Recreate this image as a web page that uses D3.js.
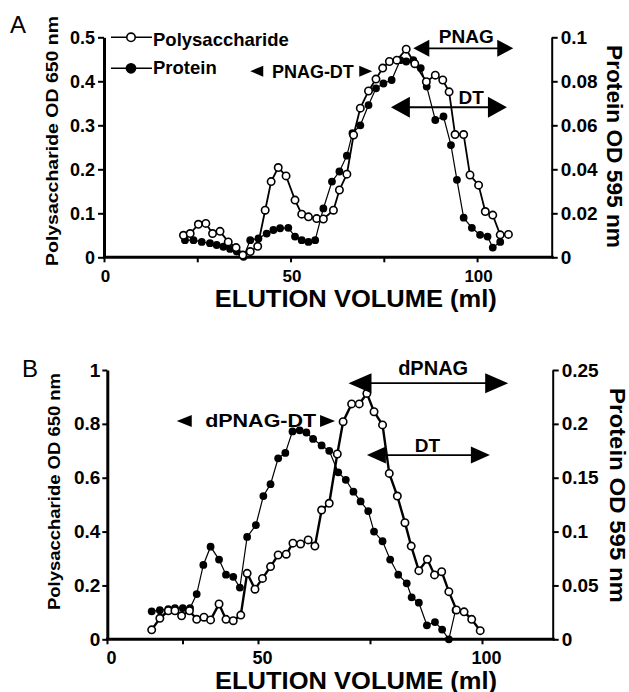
<!DOCTYPE html>
<html><head><meta charset="utf-8">
<script src="https://cdn.jsdelivr.net/npm/d3@7"></script>
<style>
body{margin:0;background:#fff}
svg{display:block}
text{font-family:"Liberation Sans",Arial,Helvetica,sans-serif;font-weight:bold;fill:#000}
</style>
</head><body>
<svg id="chart" width="629" height="692"></svg>
<script>
// ---------- Panel A data ----------
const volA_poly = [21.3,23.1,25.3,27.3,29.1,31.1,33.3,35.4,37.2,39.2,41.2,43.2,44.8,46.7,48.8,51.2,53.0,54.8,57.0,58.8,61.5,63.1,65.1,66.9,68.7,70.9,72.9,74.7,76.5,78.5,81.0,83.3,86.4,88.8,90.8,92.5,94.1,96.4,98.1,100.4,102.2,104.2,106.2,108.4];
const polyA = [0.050,0.054,0.075,0.077,0.054,0.059,0.035,0.022,0.005,0.013,0.025,0.107,0.172,0.204,0.185,0.130,0.098,0.092,0.088,0.087,0.107,0.153,0.189,0.278,0.339,0.378,0.405,0.430,0.445,0.448,0.473,0.440,0.399,0.414,0.403,0.376,0.279,0.279,0.187,0.164,0.104,0.096,0.051,0.052];
const volA_prot = [21.7,24.0,26.2,28.4,30.2,32.0,33.8,35.6,37.4,39.2,41.4,43.6,45.4,47.2,49.4,51.2,53.0,54.8,56.6,58.8,61.1,63.1,65.1,66.6,68.7,70.9,72.9,74.9,77.1,79.4,81.0,82.9,84.9,86.5,88.8,91.0,93.0,94.6,96.4,98.6,100.8,102.8,104.2,106.2];
const protA = [0.0078,0.0078,0.0070,0.0064,0.0056,0.0048,0.0038,0.0026,0.0002,0.0078,0.0086,0.0108,0.0124,0.0132,0.0134,0.0094,0.0078,0.0070,0.0078,0.0222,0.0344,0.0390,0.0462,0.0564,0.0600,0.0692,0.0768,0.0790,0.0806,0.0896,0.0890,0.0896,0.0860,0.0776,0.0624,0.0640,0.0510,0.0352,0.0180,0.0134,0.0102,0.0094,0.0044,0.0070];

// ---------- Panel B data ----------
const volB_poly = [14.8,17.5,20.3,22.5,24.7,27.3,29.7,32.1,34.3,37.1,39.4,41.8,44.3,46.4,49.0,51.0,52.8,54.5,56.3,57.8,59.5,61.2,62.7,64.2,65.9,67.7,69.0,70.9,72.6,74.3,75.9,77.8,79.3,81.1,82.8,84.2,85.9,87.8,89.4,91.0,92.6,94.3,96.0,97.7,99.6];
const polyB = [0.035,0.078,0.106,0.106,0.087,0.106,0.074,0.082,0.072,0.131,0.074,0.069,0.090,0.245,0.186,0.226,0.270,0.313,0.316,0.357,0.354,0.369,0.346,0.480,0.505,0.688,0.808,0.874,0.874,0.913,0.845,0.796,0.616,0.532,0.433,0.346,0.255,0.297,0.239,0.251,0.177,0.109,0.102,0.074,0.032];
const volB_prot = [14.8,17.5,20.3,22.5,25.1,27.5,29.7,31.9,34.3,37.1,39.4,41.8,44.0,46.4,49.3,51.2,52.8,54.5,56.1,57.7,59.3,60.8,62.3,64.2,65.9,67.9,69.6,71.3,72.9,74.6,75.9,77.8,79.5,81.3,83.2,84.3,85.9,87.7,89.5,91.1,92.6,94.1];
const protB = [0.026,0.027,0.028,0.029,0.029,0.029,0.042,0.069,0.086,0.074,0.060,0.058,0.048,0.095,0.106,0.133,0.144,0.168,0.173,0.193,0.194,0.192,0.186,0.180,0.175,0.155,0.148,0.137,0.128,0.119,0.100,0.091,0.074,0.060,0.052,0.039,0.034,0.013,0.016,0.009,0.000,0.027];

// ---------- tick labels ----------
const xTickVals = [0,25,50,75,100];
const xTickLabels = ["0","","50","","100"];
const yLeftTicksA = [0,0.1,0.2,0.3,0.4,0.5];
const yLeftLabelsA = ["0","0.1","0.2","0.3","0.4","0.5"];
const yRightTicksA = [0,0.02,0.04,0.06,0.08,0.1];
const yRightLabelsA = ["0","0.02","0.04","0.06","0.08","0.1"];
const yLeftTicksB = [0,0.2,0.4,0.6,0.8,1];
const yLeftLabelsB = ["0","0.2","0.4","0.6","0.8","1"];
const yRightTicksB = [0,0.05,0.1,0.15,0.2,0.25];
const yRightLabelsB = ["0","0.05","0.1","0.15","0.2","0.25"];

const legendNames = ["Polysaccharide","Protein"];
const xTitle = "ELUTION VOLUME (ml)";
const leftTitle = "Polysaccharide OD 650 nm";
const rightTitle = "Protein OD 595 nm";

const svg = d3.select("#chart");

function labeller(vals, labels){ return d => labels[vals.indexOf(d)]; }

function drawPanel(c){
  const g = svg.append("g");
  // axes
  const xAx = g.append("g").attr("transform",`translate(0,${c.y0})`)
    .call(d3.axisBottom(c.x).tickValues(xTickVals).tickFormat(labeller(xTickVals,xTickLabels))
      .tickSize(5).tickSizeOuter(0).tickPadding(c.xPad));
  xAx.select(".domain").attr("stroke-width",3).attr("d",`M${c.x.range()[0]-1},0H${c.x.range()[c.x.range().length-1]+2}`);
  xAx.selectAll(".tick line").attr("stroke-width",2);
  xAx.selectAll(".tick text").style("font-size",c.xFont+"px").attr("dx",c.xLabDx);

  const yl = g.append("g").attr("transform",`translate(${c.x0},0)`)
    .call(d3.axisLeft(c.yL).tickValues(c.ylT).tickFormat(labeller(c.ylT,c.ylL))
      .tickSize(c.ylSize).tickSizeOuter(0).tickPadding(c.ylPad));
  yl.select(".domain").attr("stroke-width",3);
  yl.selectAll(".tick line").attr("stroke-width",2);
  yl.selectAll(".tick text").style("font-size",c.yFont+"px");

  const yr = g.append("g").attr("transform",`translate(${c.x1},0)`)
    .call(d3.axisRight(c.yR).tickValues(c.yrT).tickFormat(labeller(c.yrT,c.yrL))
      .tickSize(6).tickSizeOuter(0).tickPadding(3));
  yr.select(".domain").attr("stroke-width",2);
  yr.selectAll(".tick line").attr("stroke-width",2);
  yr.selectAll(".tick text").style("font-size",c.yrFont+"px");

  // titles
  g.append("text").attr("x",(c.x0+c.x1)/2+c.xTitleDx).attr("y",c.xTitleY)
    .attr("text-anchor","middle").style("font-size","24px")
    .attr("textLength",282).attr("lengthAdjust","spacingAndGlyphs").text(xTitle);
  g.append("text").attr("transform",`translate(${c.ltX},${c.ltY}) rotate(-90)`)
    .attr("text-anchor","middle").style("font-size","16px")
    .attr("textLength",c.ltLen).attr("lengthAdjust","spacingAndGlyphs").text(leftTitle);
  g.append("text").attr("transform",`translate(${c.rtX},${c.rtY}) rotate(90)`)
    .attr("text-anchor","middle").style("font-size","22px")
    .attr("textLength",c.rtLen).attr("lengthAdjust","spacingAndGlyphs").text(rightTitle);
  g.append("text").attr("x",c.letterX).attr("y",c.letterY).style("font-size","24px")
    .style("font-weight","normal").text(c.letter);

  // series
  const lineP = d3.line().x(d=>c.x(d[0])).y(d=>c.yR(d[1]));
  const lineS = d3.line().x(d=>c.x(d[0])).y(d=>c.yL(d[1]));
  const protPts = c.volProt.map((v,i)=>[v,c.prot[i]]);
  const polyPts = c.volPoly.map((v,i)=>[v,c.poly[i]]);
  g.append("path").attr("d",lineP(protPts)).attr("fill","none").attr("stroke","#000").attr("stroke-width",1.2);
  g.selectAll(null).data(protPts).join("circle")
    .attr("cx",d=>c.x(d[0])).attr("cy",d=>c.yR(d[1])).attr("r",3.9).attr("fill","#000");
  g.append("path").attr("d",lineS(polyPts)).attr("fill","none").attr("stroke","#000").attr("stroke-width",c.polyW);
  g.selectAll(null).data(polyPts).join("circle")
    .attr("cx",d=>c.x(d[0])).attr("cy",d=>c.yL(d[1])).attr("r",3.7)
    .attr("fill","#fff").attr("stroke","#000").attr("stroke-width",1.6);

  // annotations
  c.arrows.forEach(a=>{
    const xa=c.x(a.from), xb=c.x(a.to), y=c.yL(a.y);
    g.append("line").attr("x1",xa+4).attr("x2",xb-4).attr("y1",y).attr("y2",y).attr("stroke","#000").attr("stroke-width",1.8);
    g.append("path").attr("d",`M${xa},${y}L${xa+a.len},${y-a.h/2}L${xa+a.len},${y+a.h/2}Z`).attr("fill","#000");
    g.append("path").attr("d",`M${xb},${y}L${xb-a.len},${y-a.h/2}L${xb-a.len},${y+a.h/2}Z`).attr("fill","#000");
    g.append("text").attr("x",c.x(a.tx)).attr("y",c.yL(a.ty)).attr("text-anchor","middle")
      .style("font-size",a.font+"px").text(a.label);
  });
  const r = c.range;
  const yr0 = c.yL(r.y);
  let xl = c.x(r.left);
  g.append("path").attr("d",`M${xl},${yr0}L${xl+r.len},${yr0-r.h/2}L${xl+r.len},${yr0+r.h/2}Z`).attr("fill","#000");
  g.append("text").attr("x",c.x(r.tx)).attr("y",c.yL(r.ty)).style("font-size",r.font+"px")
    .attr("textLength",r.tlen).attr("lengthAdjust","spacingAndGlyphs").text(r.label);
  let xr = c.x(r.right);
  g.append("path").attr("d",`M${xr},${yr0}L${xr-r.len},${yr0-r.h/2}L${xr-r.len},${yr0+r.h/2}Z`).attr("fill","#000");
  return g;
}

// Panel A
const xA = d3.scaleLinear().domain([0,120]).range([104,551.7]);
const yLA = d3.scaleLinear().domain([0,0.5]).range([257.3,37.3]);
const yRA = d3.scaleLinear().domain([0,0.1]).range([257.3,37.3]);
const gA = drawPanel({
  x:xA,yL:yLA,yR:yRA,y0:257.3,x0:104,x1:551.7,xPad:8,xFont:17,xLabDx:1,
  ylT:yLeftTicksA,ylL:yLeftLabelsA,ylSize:6,ylPad:3,yFont:18,
  yrT:yRightTicksA,yrL:yRightLabelsA,yrFont:19,
  xTitleDx:28,xTitleY:306.5,ltX:57.5,ltY:141,ltLen:250,rtX:607,rtY:146.5,rtLen:203,
  letter:"A",letterX:10,letterY:33,
  volPoly:volA_poly,poly:polyA,volProt:volA_prot,prot:protA,polyW:1.8,
  arrows:[
    {label:"PNAG",from:82.9,to:109.7,y:0.475,len:16,h:17,tx:97.1,ty:0.486,font:19},
    {label:"DT",from:76.9,to:108.0,y:0.341,len:19,h:21,tx:98.4,ty:0.348,font:19}
  ],
  range:{label:"PNAG-DT",left:39.2,right:71.9,y:0.423,len:13,h:11,tx:45.0,ty:0.408,tlen:82,font:18}
});
// legend (panel A)
const leg = gA.append("g");
[[37.3,true],[68.3,false]].forEach((d,i)=>{
  leg.append("line").attr("x1",111).attr("x2",152).attr("y1",d[0]).attr("y2",d[0]).attr("stroke","#000").attr("stroke-width",1.5);
  leg.append("circle").attr("cx",131).attr("cy",d[0]).attr("r",d[1]?4.2:4.6)
    .attr("fill",d[1]?"#fff":"#000").attr("stroke","#000").attr("stroke-width",1.6);
  leg.append("text").attr("x",153).attr("y",d[0]+(d[1]?9:6)).style("font-size","18.5px").text(legendNames[i]);
});

// Panel B
const xB = d3.scaleLinear().domain([0,50,100,117]).range([107,258,482,552.7]);
const yLB = d3.scaleLinear().domain([0,1]).range([639.3,370]);
const yRB = d3.scaleLinear().domain([0,0.25]).range([639.3,370]);
drawPanel({
  x:xB,yL:yLB,yR:yRB,y0:639.3,x0:107.3,x1:552.7,xPad:7,xFont:18,xLabDx:4,
  ylT:yLeftTicksB,ylL:yLeftLabelsB,ylSize:5,ylPad:2,yFont:19,
  yrT:yRightTicksB,yrL:yRightLabelsB,yrFont:19,
  xTitleDx:26,xTitleY:688.5,ltX:60,ltY:491.5,ltLen:237,rtX:610,rtY:495.5,rtLen:215,
  letter:"B",letterX:22,letterY:377,
  volPoly:volB_poly,poly:polyB,volProt:volB_prot,prot:protB,polyW:2.4,
  arrows:[
    {label:"dPNAG",from:70.2,to:106.3,y:0.951,len:23,h:20,tx:89.1,ty:0.981,font:20},
    {label:"DT",from:74.3,to:101.9,y:0.684,len:19,h:17,tx:87.8,ty:0.696,font:19}
  ],
  range:{label:"dPNAG-DT",left:23.1,right:67.2,y:0.811,len:15,h:12,tx:32.5,ty:0.788,tlen:111,font:19}
});
</script>
</body></html>
